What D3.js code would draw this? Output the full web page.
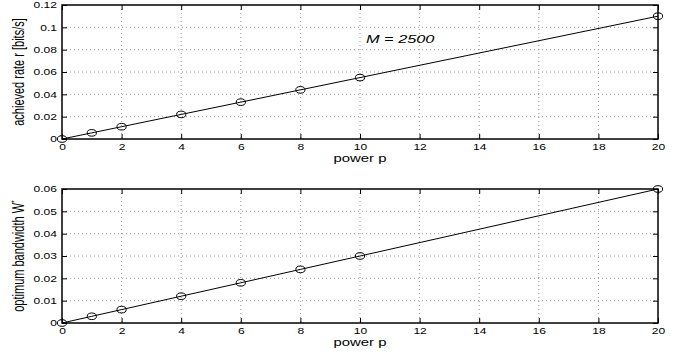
<!DOCTYPE html>
<html><head><meta charset="utf-8">
<script src="https://cdn.jsdelivr.net/npm/d3@7"></script>
<style>
body{margin:0;background:#fff;}
text{font-family:"Liberation Sans",Arial,sans-serif;}
</style></head><body>
<svg id="c" width="679" height="358"></svg>
<script>
const power = [0, 1, 2, 4, 6, 8, 10, 20];
const rate = [0, 0.0055, 0.011, 0.022, 0.033, 0.044, 0.055, 0.11];
const bandwidth = [0, 0.003, 0.006, 0.012, 0.018, 0.024, 0.030, 0.060];
const xTicks = [0, 2, 4, 6, 8, 10, 12, 14, 16, 18, 20];
const rateTicks = [0, 0.02, 0.04, 0.06, 0.08, 0.1, 0.12];
const bwTicks = [0, 0.01, 0.02, 0.03, 0.04, 0.05, 0.06];

const SX = 1.42; // horizontal stretch of the text in the reference
const svg = d3.select("#c");
const left = 62, right = 658;

function panel(top, bottom, yMax, yTicks, vals, ylabel, sup) {
  const x = d3.scaleLinear().domain([0, 20]).range([left, right]);
  const y = d3.scaleLinear().domain([0, yMax]).range([bottom, top]);
  const g = svg.append("g");
  g.selectAll(".gx").data(xTicks.slice(1, -1)).join("line")
    .attr("x1", d => x(d)).attr("x2", d => x(d)).attr("y1", top).attr("y2", bottom)
    .attr("stroke", "#9a9a9a").attr("stroke-width", 1).attr("stroke-dasharray", "1,3");
  g.selectAll(".gy").data(yTicks.slice(1, -1)).join("line")
    .attr("y1", d => y(d)).attr("y2", d => y(d)).attr("x1", left).attr("x2", right)
    .attr("stroke", "#9a9a9a").attr("stroke-width", 1).attr("stroke-dasharray", "1,3");
  const xa = g.append("g").attr("transform", `translate(0,${bottom})`)
    .call(d3.axisBottom(x).tickValues(xTicks).tickSize(-5).tickFormat(d3.format("d")));
  const xt = g.append("g").attr("transform", `translate(0,${top})`)
    .call(d3.axisTop(x).tickValues(xTicks).tickSize(-5).tickFormat(""));
  const ya = g.append("g").attr("transform", `translate(${left},0)`)
    .call(d3.axisLeft(y).tickValues(yTicks).tickSize(-5).tickFormat(d => d === 0 ? "0" : String(+d.toFixed(2))));
  const yr = g.append("g").attr("transform", `translate(${right},0)`)
    .call(d3.axisRight(y).tickValues(yTicks).tickSize(-5).tickFormat(""));
  [xa, xt, ya, yr].forEach(a => {
    a.select(".domain").remove();
    a.selectAll("line").attr("stroke", "#000");
    a.selectAll("text").attr("font-size", 8.5).attr("fill", "#000")
      .attr("font-family", "Liberation Sans, Arial, sans-serif");
  });
  xa.selectAll("text").attr("y", 0).attr("dy", 0)
    .attr("transform", `translate(0,${10.5}) scale(${SX},1)`);
  ya.selectAll("text").attr("x", 0).attr("dy", "0.35em")
    .attr("transform", `translate(-5,0) scale(${SX},1)`);
  g.append("rect").attr("x", left).attr("y", top).attr("width", right - left).attr("height", bottom - top)
    .attr("fill", "none").attr("stroke", "#000").attr("stroke-width", 1.5);
  const pts = power.map((p, i) => [p, vals[i]]);
  g.append("path").datum(pts)
    .attr("d", d3.line().x(d => x(d[0])).y(d => y(d[1])))
    .attr("fill", "none").attr("stroke", "#000").attr("stroke-width", 1);
  g.selectAll(".m").data(pts).join("ellipse")
    .attr("cx", d => x(d[0])).attr("cy", d => y(d[1])).attr("rx", 4.6).attr("ry", 3.3)
    .attr("fill", "none").attr("stroke", "#000").attr("stroke-width", 1);
  g.append("text")
    .attr("transform", `translate(${(left + right) / 2},${bottom + 23}) scale(${SX},1)`)
    .attr("text-anchor", "middle").attr("font-size", 10.5).text("power p");
  const yl = g.append("text")
    .attr("transform", `translate(24,${(top + bottom) / 2}) scale(${SX},1) rotate(-90)`)
    .attr("text-anchor", "middle").attr("font-size", 11).text(ylabel);
  if (sup) yl.append("tspan").attr("dy", -5).attr("font-size", 7).text(sup);
  return {x, y, g};
}

const p1 = panel(5, 139, 0.12, rateTicks, rate, "achieved rate r [bits/s]", null);
const p2 = panel(189, 323, 0.06, bwTicks, bandwidth, "optimum bandwidth W", "*");

p1.g.append("text")
  .attr("transform", `translate(${p1.x(10.2)},${43}) scale(${SX},1)`)
  .attr("font-family", "Liberation Serif, Times New Roman, serif").attr("font-style", "italic")
  .attr("font-size", 11.5).text("M = 2500");
</script></body></html>
